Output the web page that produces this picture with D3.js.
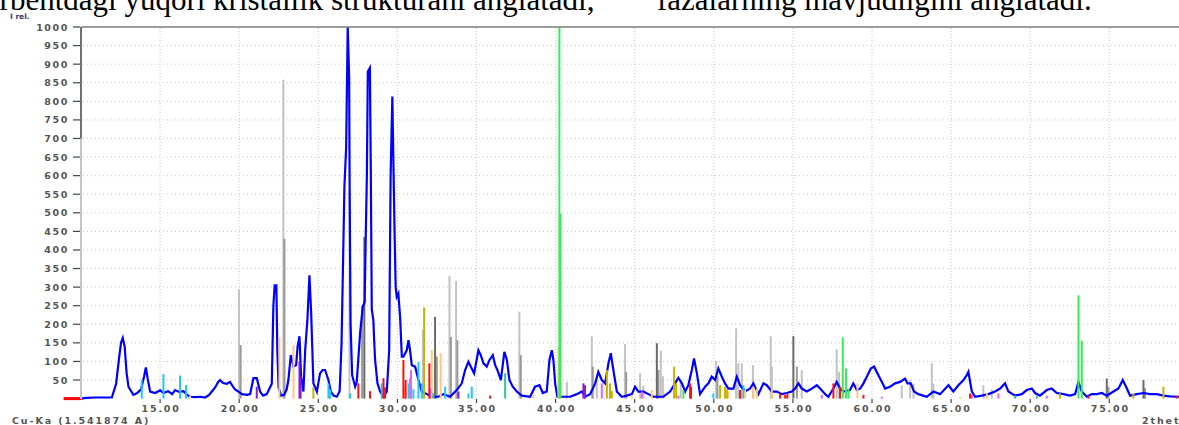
<!DOCTYPE html>
<html><head><meta charset="utf-8">
<script src="https://cdn.jsdelivr.net/npm/d3@7"></script>
<style>body{margin:0;background:#fff;overflow:hidden}svg{display:block}</style>
</head><body><svg id="c" width="1179" height="425"></svg>
<script>
// ---- measured pattern (2theta, I rel.) ----
const twoTheta = [10.00,10.32,10.89,11.52,11.95,12.22,12.41,12.53,12.64,12.76,12.88,13.00,13.31,13.55,13.80,13.99,14.10,14.21,14.37,14.68,15.00,15.21,15.51,15.76,15.95,16.20,16.47,16.71,16.90,17.21,17.53,17.84,18.10,18.27,18.48,18.67,18.79,18.98,19.22,19.42,19.61,19.74,19.95,20.18,20.50,20.69,20.90,21.11,21.32,21.51,21.74,21.89,22.06,22.16,22.24,22.35,22.41,22.49,22.65,22.84,23.00,23.11,23.26,23.43,23.60,23.69,23.81,23.91,24.06,24.17,24.31,24.44,24.55,24.69,24.91,25.11,25.27,25.43,25.64,25.79,25.97,26.17,26.35,26.47,26.59,26.65,26.76,26.86,26.95,26.98,27.04,27.14,27.33,27.43,27.52,27.64,27.81,27.93,28.00,28.07,28.13,28.26,28.32,28.38,28.48,28.53,28.59,28.74,28.91,29.12,29.33,29.48,29.57,29.68,29.75,29.82,29.89,29.96,30.06,30.17,30.28,30.38,30.59,30.70,30.80,30.91,31.12,31.33,31.54,31.86,32.17,32.59,32.91,33.33,33.75,34.07,34.28,34.49,34.64,34.85,35.12,35.27,35.44,35.65,35.82,36.03,36.18,36.32,36.54,36.76,36.92,37.08,37.29,37.55,37.86,38.39,38.70,38.98,39.19,39.44,39.61,39.76,39.86,39.97,40.11,40.49,40.92,41.34,41.66,41.86,42.18,42.50,42.70,42.92,43.13,43.34,43.49,43.65,43.87,44.18,44.50,44.82,45.02,45.23,45.55,45.87,46.18,46.81,47.24,47.55,47.76,47.98,48.19,48.39,48.61,48.75,48.93,49.13,49.45,49.66,49.87,50.08,50.29,50.51,50.71,50.92,51.24,51.45,51.66,51.98,52.29,52.50,52.82,53.14,53.35,53.67,53.98,54.30,54.61,54.93,55.14,55.35,55.56,55.88,56.19,56.51,56.72,57.04,57.24,57.56,57.77,57.98,58.19,58.61,58.82,59.04,59.25,59.46,59.67,59.92,60.13,60.34,60.56,60.83,61.14,61.46,61.78,62.09,62.24,62.45,62.66,62.93,63.46,63.88,64.30,64.83,65.14,65.46,65.78,65.99,66.09,66.31,66.52,66.94,67.36,67.78,68.10,68.41,68.62,69.04,69.47,69.78,70.10,70.31,70.62,71.05,71.36,71.68,72.10,72.52,72.84,73.05,73.26,73.58,73.89,74.21,74.53,74.84,75.26,75.58,75.85,76.11,76.31,76.74,77.16,77.58,78.00,78.42,78.84,79.27,79.79];
const intensity = [0,2,3,3,3,40,110,150,163,140,70,32,10,15,25,60,84,55,19,15,22,15,20,12,23,18,20,10,5,4,5,3,10,19,30,45,50,42,40,45,32,25,19,12,10,12,55,55,19,8,12,25,40,250,305,305,130,30,8,10,25,50,117,86,90,140,168,60,19,130,211,332,229,41,19,68,77,77,50,19,8,5,20,150,426,570,675,1000,864,570,200,63,32,45,100,175,247,260,440,600,880,890,606,240,211,157,104,41,19,5,19,130,596,813,628,450,300,274,283,220,113,113,130,157,130,90,86,50,19,12,5,5,12,5,23,41,77,99,86,68,130,117,95,86,104,117,90,77,50,126,104,50,32,19,8,5,32,36,15,19,104,130,104,41,5,5,5,12,19,5,12,41,72,50,41,95,122,77,19,5,8,12,32,19,19,12,5,5,19,41,56,41,19,36,77,108,68,12,32,41,59,50,81,59,41,27,27,59,36,19,27,41,12,41,36,19,19,12,15,19,27,41,27,19,27,36,27,12,5,27,45,27,19,23,41,23,27,41,59,81,86,68,50,27,32,41,45,54,41,41,19,12,5,19,12,36,19,36,50,63,72,19,5,8,12,19,27,41,19,8,12,23,27,15,8,23,27,15,12,8,12,45,19,5,12,12,15,8,19,27,50,27,8,12,15,12,12,8,6,5,5];

// ---- reference phase sticks [2theta, I] ----
const lightGraySticks = [[19.99,294],[22.79,858],[26.97,560],[31.61,186],[33.29,330],[33.71,317],[37.71,234],[40.71,45],[42.29,168],[42.60,50],[44.39,147],[45.34,68],[45.55,35],[46.65,129],[46.78,60],[47.91,45],[50.15,102],[51.41,189],[51.55,95],[51.77,95],[52.47,90],[53.60,168],[53.67,86],[55.56,77],[57.77,133],[57.92,72],[61.88,36],[62.41,50],[62.62,40],[63.78,95],[63.88,40],[67.04,36],[67.57,25]];
const graySticks = [[20.09,144],[22.86,430],[27.77,250],[32.49,113],[33.38,166],[33.79,157],[37.80,117],[42.35,86],[44.46,72],[46.50,77],[50.23,60],[55.25,86],[74.94,32],[77.26,28]];
const darkGraySticks = [[27.91,435],[32.38,220],[46.40,149],[55.03,168],[74.84,54],[77.16,50]];
const greenSticks = [[40.24,1000],[40.30,498],[48.08,23],[58.15,165],[58.36,81],[58.51,25],[73.05,278],[73.26,156]];
const redSticks = [[27.53,41],[28.27,20],[29.12,55],[29.22,30],[30.38,104],[30.52,50],[32.02,95],[35.86,8],[48.50,41],[48.56,32],[51.66,23],[54.19,14],[54.51,10],[54.65,14],[57.56,41],[57.98,32],[59.46,10],[66.20,14],[73.68,8],[79.27,8]];
const orangeSticks = [[16.90,8],[22.54,165],[23.43,144],[30.49,30],[32.17,130],[32.74,122],[38.60,12],[40.18,140],[44.82,10],[46.08,23],[50.92,19],[51.98,23],[52.50,32],[52.72,27],[53.67,30],[59.08,41],[65.57,5],[67.26,14]];
const oliveSticks = [[24.69,30],[31.69,245],[43.24,77],[43.44,41],[43.55,20],[47.49,86],[47.62,41],[50.40,36],[50.71,32],[50.84,25],[71.89,14],[76.52,14],[78.42,32]];
const cyanSticks = [[13.84,50],[15.21,66],[16.26,62],[16.64,36],[25.64,41],[25.75,25],[27.01,14],[29.01,41],[30.70,41],[31.01,25],[31.33,99],[31.54,41],[33.02,32],[34.49,14],[34.70,32],[49.97,14],[51.87,36]];
const tealSticks = [[32.28,15],[36.81,68],[69.04,8],[70.42,8]];
const pinkSticks = [[30.80,55],[30.86,77],[32.07,27],[42.92,41],[45.45,19],[47.76,8],[56.83,10],[60.62,5],[66.31,10],[67.99,14],[71.05,8]];
const purpleSticks = [[21.11,32],[23.81,100],[23.88,60],[33.86,19],[41.76,41],[41.86,36]];

const xTicks = [15,20,25,30,35,40,45,50,55,60,65,70,75];
const yTicks = [50,100,150,200,250,300,350,400,450,500,550,600,650,700,750,800,850,900,950,1000];

const svg = d3.select("#c");
const x = d3.scaleLinear().domain([10, 79.5]).range([81, 1180.5]);
const y = d3.scaleLinear().domain([0, 1000]).range([398.6, 27]);
const F = "'DejaVu Sans', Verdana, sans-serif";
const SERIF = "'Liberation Serif','Times New Roman',serif";

// top document text (cropped by the page edge)
svg.append("text").attr("x", -28).attr("y", 10)
  .attr("font-family",SERIF).attr("font-size",31)
  .text("sorbentdagi yuqori kristallik strukturani anglatadi,");
svg.append("text").attr("x", 657).attr("y", 10)
  .attr("font-family",SERIF).attr("font-size",31)
  .text("fazalarning mavjudligini anglatadi.");

// grid
svg.append("g").selectAll("line").data(yTicks.filter(d=>d<1000)).join("line")
  .attr("x1", 83).attr("x2", 1179).attr("y1", d=>y(d)).attr("y2", d=>y(d))
  .attr("stroke","#c8c8c8").attr("stroke-width",1).attr("stroke-dasharray","1,3");
svg.append("g").selectAll("line").data(xTicks).join("line")
  .attr("x1", d=>x(d)).attr("x2", d=>x(d)).attr("y1", 28).attr("y2", 398)
  .attr("stroke","#d0d0d0").attr("stroke-width",1.2).attr("stroke-dasharray","1,2");

function sticks(data, color, w){
  svg.append("g").selectAll("line").data(data).join("line")
    .attr("x1", d=>x(d[0])).attr("x2", d=>x(d[0]))
    .attr("y1", y(0)).attr("y2", d=>y(d[1]))
    .attr("stroke", color).attr("stroke-width", w||2);
}
sticks(lightGraySticks, "#c2c2c2", 2);
sticks(graySticks, "#9a9a9a", 2);
sticks(darkGraySticks, "#6a6a6a", 2);

// measured curve
const pts = twoTheta.map((t,i)=>[t,intensity[i]]);
svg.append("path").datum(pts)
  .attr("d", d3.line().x(d=>x(d[0])).y(d=>y(d[1])))
  .attr("fill","none").attr("stroke","#0000ff").attr("stroke-width",2.2).attr("stroke-linejoin","miter");

sticks(cyanSticks, "#1ec8ff", 2);
sticks(orangeSticks, "#ffc87a", 2);
sticks(oliveSticks, "#c9b100", 2);
sticks(tealSticks, "#2fc39a", 2);
sticks(pinkSticks, "#f060f0", 2);
sticks(purpleSticks, "#8a1ccc", 2);
sticks(redSticks, "#ff1010", 2);
sticks(greenSticks, "#33ee55", 2);

// red baseline marker left of axis
svg.append("line").attr("x1", x(8.9)).attr("x2", x(10)).attr("y1", y(0)).attr("y2", y(0))
  .attr("stroke","#ff0000").attr("stroke-width",3);

// axes frame
svg.append("line").attr("x1",81).attr("x2",1179).attr("y1",27).attr("y2",27).attr("stroke","#7c7c7c").attr("stroke-width",1.6);
svg.append("line").attr("x1",81).attr("x2",81).attr("y1",27).attr("y2",399).attr("stroke","#c6c6c6").attr("stroke-width",2);
svg.append("line").attr("x1",81).attr("x2",81).attr("y1",27).attr("y2",y(700)).attr("stroke","#555").attr("stroke-width",1.5);

// y ticks + labels
const yg = svg.append("g");
yg.selectAll("line").data(yTicks).join("line")
  .attr("x1",73).attr("x2",80).attr("y1",d=>y(d)).attr("y2",d=>y(d)).attr("stroke","#444").attr("stroke-width",1.2);
yg.selectAll("text").data(yTicks).join("text")
  .attr("x",69).attr("y",d=>y(d)+3.5).attr("text-anchor","end")
  .attr("font-family",F).attr("font-weight","bold").attr("font-size",9.5).attr("letter-spacing",1.6)
  .attr("fill","#555").text(d=>d);

// x ticks + labels
const xg = svg.append("g");
xg.selectAll("line").data(xTicks).join("line")
  .attr("x1",d=>x(d)).attr("x2",d=>x(d)).attr("y1",399).attr("y2",403).attr("stroke","#444").attr("stroke-width",1.2);
xg.selectAll("text").data(xTicks).join("text")
  .attr("x",d=>x(d)+1).attr("y",411.5).attr("text-anchor","middle")
  .attr("font-family",F).attr("font-weight","bold").attr("font-size",9.5).attr("letter-spacing",1.8)
  .attr("fill","#555").text(d=>d.toFixed(2));

svg.append("text").attr("x",10).attr("y",18.5).attr("font-family",F).attr("font-weight","bold")
  .attr("font-size",7.5).attr("fill","#3a3a70").text("I rel.");
svg.append("text").attr("x",12).attr("y",424).attr("font-family",F).attr("font-weight","bold")
  .attr("font-size",9.5).attr("letter-spacing",1.9).attr("fill","#555").text("Cu-Ka (1.541874 A)");
svg.append("text").attr("x",1142).attr("y",424).attr("font-family",F).attr("font-weight","bold")
  .attr("font-size",9.5).attr("letter-spacing",1.9).attr("fill","#555").text("2theta");
</script></body></html>
